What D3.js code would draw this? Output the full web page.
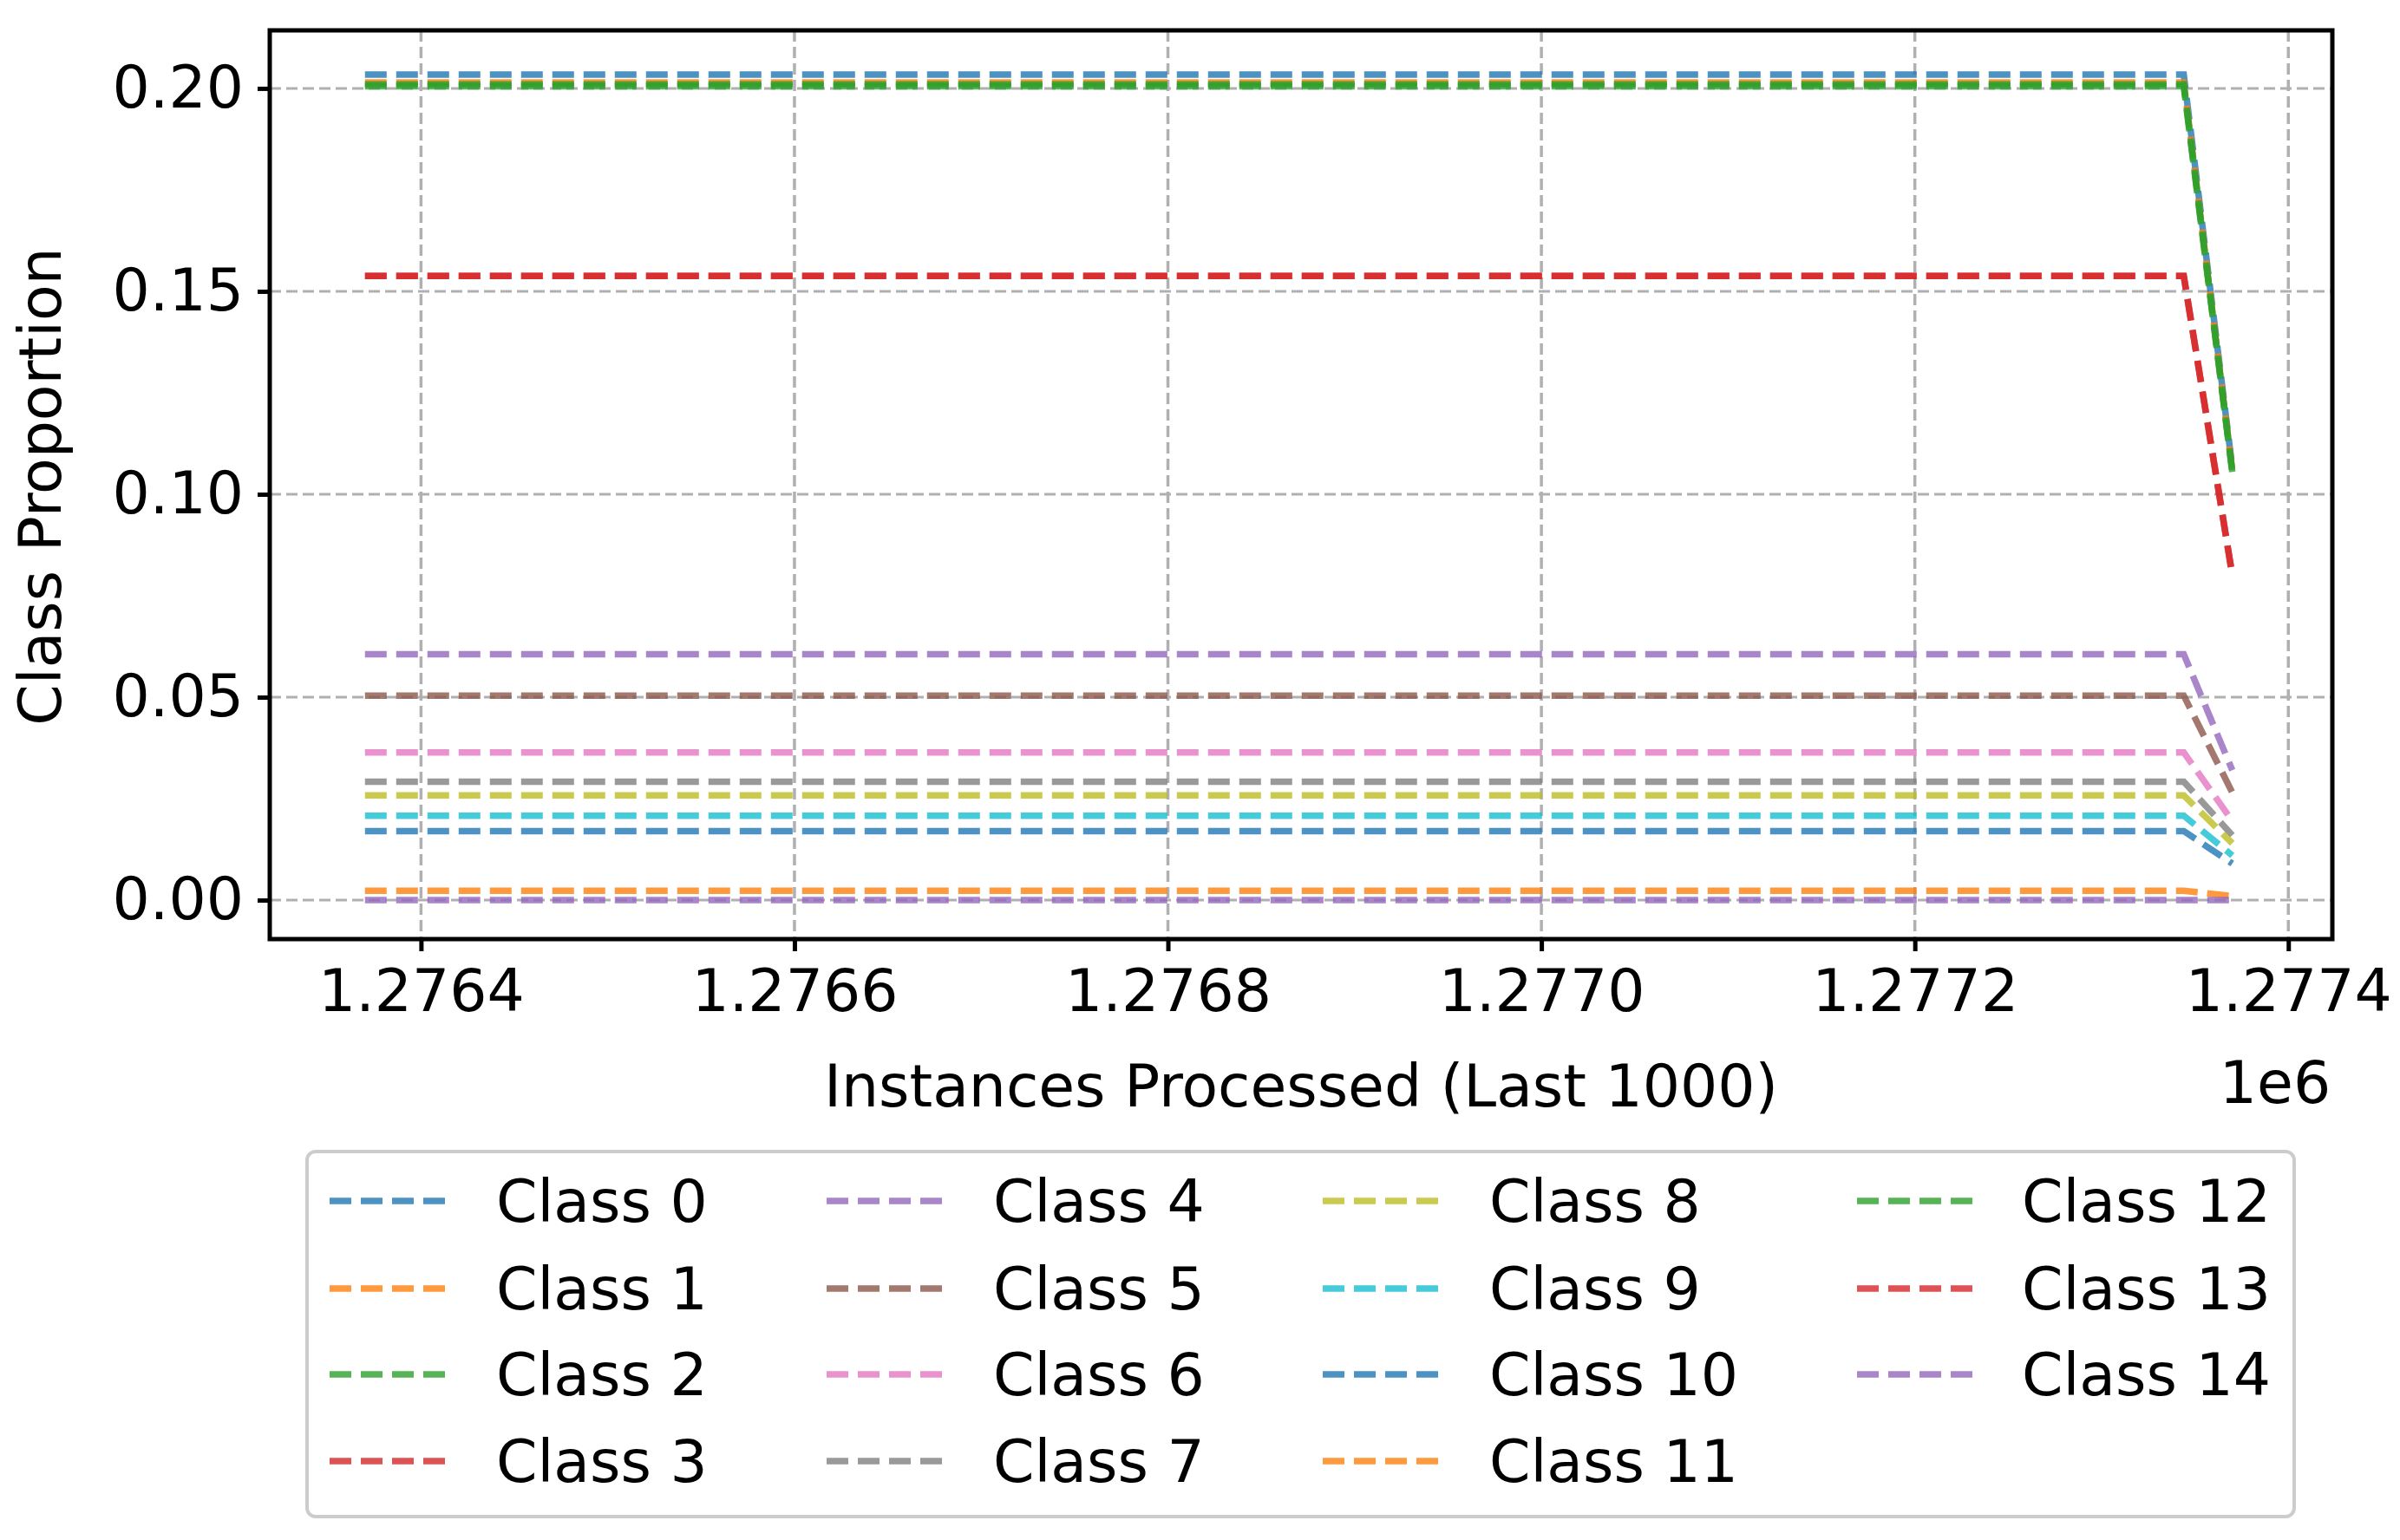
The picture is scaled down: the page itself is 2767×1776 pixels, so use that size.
<!DOCTYPE html><html><head><meta charset="utf-8"><script src="https://cdn.jsdelivr.net/npm/d3@7"></script>
<style>body{margin:0;background:#fff}text{font-family:"DejaVu Sans",sans-serif;fill:#000}</style></head><body>
<svg id="c" width="2767" height="1776"></svg>
<script>
const xs=[1276370,1277344,1277370];
const classes=["Class 0","Class 1","Class 2","Class 3","Class 4","Class 5","Class 6","Class 7","Class 8","Class 9","Class 10","Class 11","Class 12","Class 13","Class 14"];
const startVals=[0.2034,0.2015,0.2010,0.1538,0.0606,0.0504,0.0364,0.0292,0.0258,0.0208,0.0170,0.0023,0.2005,0.1538,0.0];
const endVals=[0.1065,0.1060,0.1055,0.0800,0.0320,0.0265,0.0195,0.0160,0.0140,0.0110,0.0090,0.0010,0.1055,0.0800,0.0];
const colors=["#1f77b4","#ff7f0e","#2ca02c","#d62728","#9467bd","#8c564b","#e377c2","#7f7f7f","#bcbd22","#17becf","#1f77b4","#ff7f0e","#2ca02c","#d62728","#9467bd"];
const xTicks=[1276400,1276600,1276800,1277000,1277200,1277400];
const yTicks=[0,0.05,0.10,0.15,0.20];
const svg=d3.select("#c");
const L=311,R=2689,T=35,B=1083;
const x=d3.scaleLinear().domain([1276319,1277418]).range([L,R-12]);
const y=d3.scaleLinear().domain([-0.0096,0.2143]).range([B,T]);
const g=svg.append("g");
g.selectAll(".gx").data(xTicks).enter().append("line").attr("x1",d=>x(d)).attr("x2",d=>x(d)).attr("y1",T).attr("y2",B).attr("stroke","#b0b0b0").attr("stroke-width",3.5).attr("stroke-dasharray","13,6");
g.selectAll(".gy").data(yTicks).enter().append("line").attr("y1",d=>y(d)).attr("y2",d=>y(d)).attr("x1",L).attr("x2",R).attr("stroke","#b0b0b0").attr("stroke-width",3).attr("stroke-dasharray","13,6");
const line=d3.line().x(d=>x(d[0])).y(d=>y(d[1]));
classes.forEach((c,i)=>{
  const pts=xs.map((xv,j)=>[xv,j<2?startVals[i]:endVals[i]]);
  g.append("path").attr("d",line(pts)).attr("fill","none").attr("stroke",colors[i]).attr("stroke-opacity",0.8).attr("stroke-width",7.5).attr("stroke-dasharray","25,11");
});
svg.append("rect").attr("x",L).attr("y",T).attr("width",R-L).attr("height",B-T).attr("fill","none").attr("stroke","#000").attr("stroke-width",5);
const xa=svg.append("g").attr("transform",`translate(0,${B})`).call(d3.axisBottom(x).tickValues(xTicks).tickFormat(d=>(d/1e6).toFixed(4)).tickSize(14).tickPadding(18));
const ya=svg.append("g").attr("transform",`translate(${L},0)`).call(d3.axisLeft(y).tickValues(yTicks).tickFormat(d3.format(".2f")).tickSize(14).tickPadding(16));
[xa,ya].forEach(a=>{a.select(".domain").remove();a.selectAll("line").attr("stroke","#000").attr("stroke-width",5);a.selectAll("text").attr("font-size",68).attr("font-family","DejaVu Sans").attr("fill","#000");});
xa.selectAll("text").attr("dy","0.75em");
svg.append("text").attr("x",1500).attr("y",1276).attr("text-anchor","middle").attr("font-size",68).text("Instances Processed (Last 1000)");
svg.append("text").attr("x",2623).attr("y",1272).attr("text-anchor","middle").attr("font-size",68).text("1e6");
svg.append("text").attr("transform","translate(70,561) rotate(-90)").attr("text-anchor","middle").attr("font-size",68).text("Class Proportion");
svg.append("rect").attr("x",354).attr("y",1328).attr("width",2291).attr("height",421).attr("rx",10).attr("fill","#fff").attr("stroke","#ccc").attr("stroke-width",4);
const colH=[380,953,1525,2141], colT=[572,1145,1717,2331], rowY=[1385,1486,1585,1685];
classes.forEach((c,i)=>{
  const col=Math.floor(i/4), row=i%4;
  svg.append("line").attr("x1",colH[col]).attr("x2",colH[col]+138).attr("y1",rowY[row]).attr("y2",rowY[row]).attr("stroke",colors[i]).attr("stroke-opacity",0.8).attr("stroke-width",7.5).attr("stroke-dasharray","25,11");
  svg.append("text").attr("x",colT[col]).attr("y",rowY[row]).attr("dy","0.35em").attr("font-size",68).text(c);
});
</script></body></html>
